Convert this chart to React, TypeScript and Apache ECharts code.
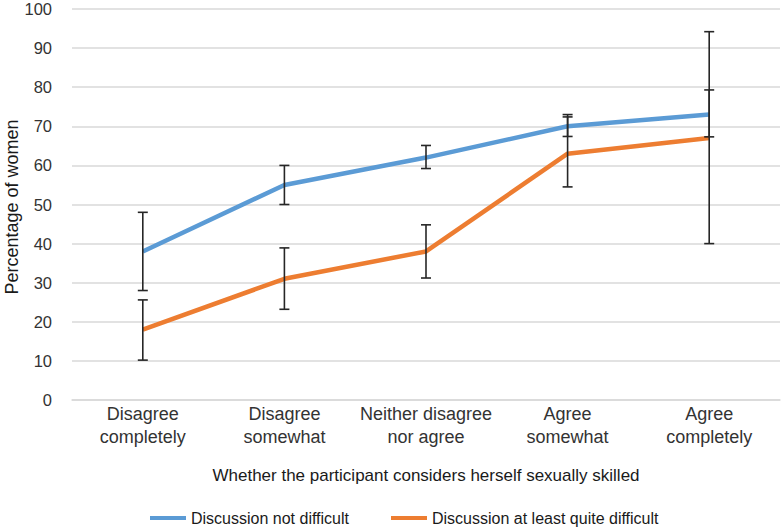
import React, { useEffect, useRef } from "react";
import * as echarts from "echarts";

const categories = [
  "Disagree\ncompletely",
  "Disagree\nsomewhat",
  "Neither disagree\nnor agree",
  "Agree\nsomewhat",
  "Agree\ncompletely",
];
const notDifficult = [38, 55, 62, 70, 73];
const notDifficultLow = [28, 50, 59.2, 67.4, 67.3];
const notDifficultHigh = [48, 60, 65.1, 73, 94.2];
const quiteDifficult = [18, 31, 38, 63, 67];
const quiteDifficultLow = [10.2, 23.2, 31.2, 54.5, 40];
const quiteDifficultHigh = [25.6, 38.9, 44.8, 72.4, 79.3];

const seriesNames = ["Discussion not difficult", "Discussion at least quite difficult"];
const yAxisTitle = "Percentage of women";
const xAxisTitle = "Whether the participant considers herself sexually skilled";

const FONT = "Liberation Sans, Arial, Helvetica, sans-serif";

function errorSeries(low: number[], high: number[]) {
  return {
    type: "custom",
    silent: true,
    z: 10,
    data: low.map((l, i) => [i, l, high[i]]),
    renderItem: (params: any, api: any) => {
      const x = api.value(0);
      const lo = api.coord([x, api.value(1)]);
      const hi = api.coord([x, api.value(2)]);
      const hw = 5;
      const style = { stroke: "#262626", lineWidth: 1.6 };
      return {
        type: "group",
        children: [
          { type: "line", shape: { x1: lo[0], y1: lo[1], x2: hi[0], y2: hi[1] }, style },
          { type: "line", shape: { x1: lo[0] - hw, y1: lo[1], x2: lo[0] + hw, y2: lo[1] }, style },
          { type: "line", shape: { x1: hi[0] - hw, y1: hi[1], x2: hi[0] + hw, y2: hi[1] }, style },
        ],
      };
    },
  };
}

export default function App() {
  const ref = useRef<HTMLDivElement>(null);
  useEffect(() => {
    const chart = echarts.init(ref.current!, undefined, { renderer: "svg" });
    chart.setOption({
      animation: false,
      textStyle: { fontFamily: FONT },
      grid: { left: 72, right: 4, top: 9, bottom: 129, outerBoundsMode: "none", containLabel: false },
      legend: {
        top: 505,
        left: 145,
        itemWidth: 36,
        itemHeight: 4,
        itemGap: 42,
        icon: "rect",
        textStyle: { fontSize: 16, color: "#1a1a1a", fontFamily: FONT },
        data: seriesNames,
      },
      graphic: [
        {
          type: "text",
          x: 12,
          y: 207,
          rotation: Math.PI / 2,
          style: {
            text: yAxisTitle,
            align: "center",
            verticalAlign: "middle",
            fontSize: 18,
            fontFamily: FONT,
            fill: "#1a1a1a",
          },
        },
      ],
      xAxis: {
        type: "category",
        data: categories,
        boundaryGap: true,
        axisLine: { show: true, lineStyle: { color: "#d9d9d9", width: 1.5 } },
        axisTick: { show: false },
        axisLabel: { fontSize: 18, color: "#333", lineHeight: 23, margin: 2, fontFamily: FONT, interval: 0 },
        name: xAxisTitle,
        nameLocation: "middle",
        nameGap: 67,
        nameTextStyle: { fontSize: 17, color: "#1a1a1a", fontFamily: FONT },
      },
      yAxis: {
        type: "value",
        min: 0,
        max: 100,
        interval: 10,
        axisLine: { show: false },
        axisTick: { show: false },
        splitLine: { lineStyle: { color: "#d9d9d9", width: 1.5 } },
        axisLabel: { fontSize: 16.5, color: "#333", margin: 20, fontFamily: FONT },
      },
      series: [
        {
          name: seriesNames[0],
          type: "line",
          data: notDifficult,
          symbol: "none",
          lineStyle: { color: "#5B9BD5", width: 4.5 },
          itemStyle: { color: "#5B9BD5" },
        },
        {
          name: seriesNames[1],
          type: "line",
          data: quiteDifficult,
          symbol: "none",
          lineStyle: { color: "#ED7D31", width: 4.5 },
          itemStyle: { color: "#ED7D31" },
        },
        errorSeries(notDifficultLow, notDifficultHigh),
        errorSeries(quiteDifficultLow, quiteDifficultHigh),
      ],
    });
    return () => chart.dispose();
  }, []);
  return <div ref={ref} style={{ width: 784, height: 529, position: "absolute", left: 0, top: 0 }} />;
}
